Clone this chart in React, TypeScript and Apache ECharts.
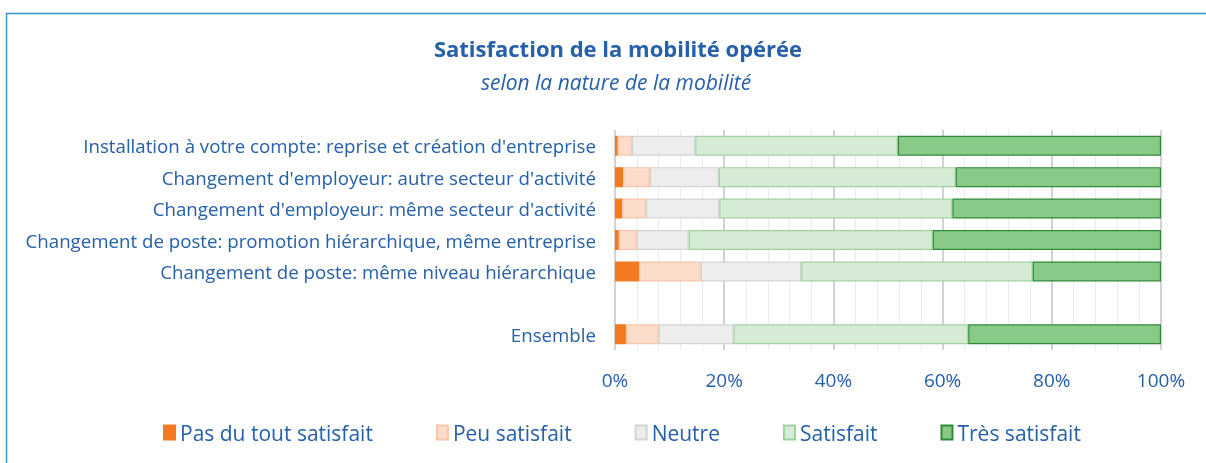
import React, { useEffect, useRef } from "react";
import * as echarts from "echarts";

const categories = [
  "Installation à votre compte: reprise et création d'entreprise",
  "Changement d'employeur: autre secteur d'activité",
  "Changement d'employeur: même secteur d'activité",
  "Changement de poste: promotion hiérarchique, même entreprise",
  "Changement de poste: même niveau hiérarchique",
  "",
  "Ensemble",
];

const pasDuTout = [0.5, 1.5, 1.3, 0.7, 4.4, null, 2.0];
const peu = [2.6, 4.9, 4.4, 3.3, 11.3, null, 6.0];
const neutre = [11.6, 12.6, 13.4, 9.5, 18.4, null, 13.7];
const satisfait = [37.1, 43.4, 42.7, 44.7, 42.4, null, 43.0];
const tresSatisfait = [48.2, 37.6, 38.2, 41.8, 23.5, null, 35.3];

const seriesNames = ["Pas du tout satisfait", "Peu satisfait", "Neutre", "Satisfait", "Très satisfait"];
const fills = ["#f47a22", "#fcdcca", "#ededed", "#d6ebd5", "#89ca88"];
const borders = ["#f47a22", "#f9c6a9", "#d4d4d4", "#9fd39d", "#2f8a37"];

const TXT = "#2560a9";
const FONT = "Open Sans";

export default function App() {
  const ref = useRef<HTMLDivElement>(null);
  useEffect(() => {
    if (!ref.current) return;
    const chart = echarts.init(ref.current, null, { renderer: "svg" });
    const data = [pasDuTout, peu, neutre, satisfait, tresSatisfait];
    chart.setOption({
      animation: false,
      textStyle: { fontFamily: FONT },
      title: [
        {
          text: "Satisfaction de la mobilité opérée",
          left: 613,
          top: 32,
          textAlign: "center",
          textStyle: { color: TXT, fontSize: 22, fontWeight: "bold", fontFamily: FONT },
        },
        {
          text: "selon la nature de la mobilité",
          left: 611,
          top: 66,
          textAlign: "center",
          textStyle: { color: TXT, fontSize: 21, fontStyle: "italic", fontWeight: "normal", fontFamily: FONT },
        },
      ],
      graphic: [
        {
          type: "rect",
          shape: { x: 6.5, y: 13.5, width: 1220, height: 470 },
          style: { fill: "none", stroke: "#3a95d2", lineWidth: 1.5 },
          silent: true,
          z: -10,
        },
      ],
      legend: {
        data: seriesNames,
        left: 158,
        top: 417,
        icon: "rect",
        itemWidth: 11,
        itemHeight: 14,
        itemGap: 63,
        textStyle: { color: TXT, fontSize: 21, fontFamily: FONT },
      },
      grid: { left: 615, right: 45, top: 130, bottom: 113, containLabel: false },
      xAxis: [
        {
          type: "value",
          min: 0,
          max: 100,
          interval: 4,
          axisLine: { show: false },
          axisTick: { show: false },
          axisLabel: {
            color: TXT,
            fontSize: 19,
            margin: 20,
            formatter: (v: number) => (v % 20 === 0 ? v + "%" : ""),
          },
          splitLine: { show: true, lineStyle: { color: "#ebebeb", width: 1 } },
        },
        {
          type: "value",
          min: 0,
          max: 100,
          interval: 20,
          position: "bottom",
          axisLine: { show: false },
          axisTick: { show: false },
          axisLabel: { show: false },
          splitLine: { show: true, lineStyle: { color: "#d2d2d2", width: 2 } },
        },
      ],
      yAxis: {
        type: "category",
        data: categories,
        inverse: true,
        axisLine: { show: false },
        axisTick: { show: false },
        axisLabel: { color: TXT, fontSize: 18.7, margin: 19 },
      },
      series: seriesNames.map((name, i) => ({
        name,
        type: "bar",
        stack: "total",
        xAxisIndex: 0,
        barWidth: 20,
        data: data[i],
        itemStyle: { color: fills[i], borderColor: borders[i], borderWidth: 1.2 },
      })),
    });
    return () => chart.dispose();
  }, []);
  return <div ref={ref} style={{ position: "fixed", left: 0, top: 0, width: 1206, height: 463 }} />;
}
